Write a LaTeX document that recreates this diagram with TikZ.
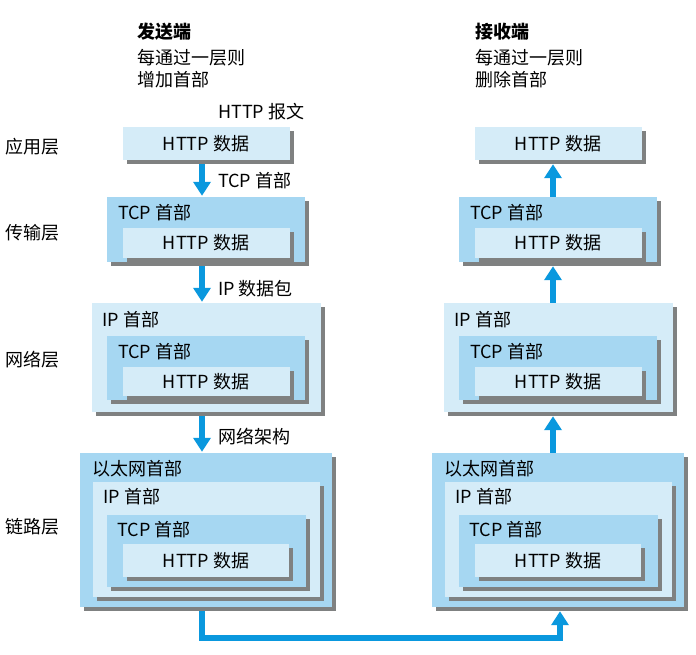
\documentclass[tikz,border=0pt]{standalone}
\usepackage{fontspec}
\setmainfont{Noto Sans CJK SC}
\usetikzlibrary{arrows.meta,positioning,shadows,calc}
\definecolor{pale}{HTML}{D5ECF8}
\definecolor{mid}{HTML}{A6D7F2}
\definecolor{flowblue}{HTML}{0A98DE}
\definecolor{shade}{HTML}{7F8181}
\tikzset{
  pkt/.style={inner sep=0pt,
              drop shadow={shadow xshift=4pt, shadow yshift=-4pt, fill=shade, opacity=1}},
  palebox/.style={pkt, fill=pale},
  midbox/.style={pkt, fill=mid},
  hdr/.style={anchor=west, inner sep=0pt},
  flow/.style={draw=flowblue, line width=5.5pt, -{Triangle[width=17pt,length=14pt]}},
}

\begin{document}
\begin{tikzpicture}[x=1pt, y=-1pt, font=\fontsize{18}{22}\selectfont]
  \useasboundingbox (0,0) rectangle (696,654);
  % column headings
  \node[hdr, font=\fontsize{18}{22}\selectfont\bfseries] (sendT) at (137,32) {发送端};
  \node[hdr] (sendA) at (137,58) {每通过一层则};
  \node[hdr] (sendB) at (137,80) {增加首部};
  \node[hdr, font=\fontsize{18}{22}\selectfont\bfseries] (recvT) at (475,32) {接收端};
  \node[hdr] (recvA) at (475,58) {每通过一层则};
  \node[hdr] (recvB) at (475,80) {删除首部};
  % layer names
  \node[hdr] (layApp) at (5,147) {应用层};
  \node[hdr] (layTrn) at (5,233) {传输层};
  \node[hdr] (layNet) at (5,360) {网络层};
  \node[hdr] (layLnk) at (5,527) {链路层};
  % packets, sender (L) and receiver (R)
  \foreach \c/\dx in {L/0,R/352}{
    % application layer
    \node[palebox, minimum width=167pt, minimum height=33pt] (app\c) at (206+\dx,143.5) {HTTP 数据};
    % transport layer
    \node[midbox, minimum width=198pt, minimum height=65pt] (trn\c) at (206+\dx,229.5) {};
    \node[hdr] (trnT\c) at ([shift={(11,16)}]trn\c.north west) {TCP 首部};
    \node[palebox, minimum width=167pt, minimum height=30pt] (trnd\c) at (206+\dx,243) {HTTP 数据};
    % network layer
    \node[palebox, minimum width=229pt, minimum height=109pt] (net\c) at (206+\dx,357.5) {};
    \node[hdr] (netI\c) at ([shift={(11,17)}]net\c.north west) {IP 首部};
    \node[midbox, minimum width=198pt, minimum height=64pt] (nett\c) at (206+\dx,368) {};
    \node[hdr] (netT\c) at ([shift={(11,16)}]nett\c.north west) {TCP 首部};
    \node[palebox, minimum width=167pt, minimum height=29pt] (netd\c) at (206+\dx,381.5) {HTTP 数据};
    % link layer
    \node[midbox, minimum width=252pt, minimum height=154pt] (lnk\c) at (206+\dx,530) {};
    \node[hdr] (lnkE\c) at ([shift={(12,16)}]lnk\c.north west) {以太网首部};
    \node[palebox, minimum width=227pt, minimum height=115pt] (lnki\c) at (206+\dx,539.5) {};
    \node[hdr] (lnkI\c) at ([shift={(11,15)}]lnki\c.north west) {IP 首部};
    \node[midbox, minimum width=199pt, minimum height=72pt] (lnkt\c) at (206+\dx,551) {};
    \node[hdr] (lnkT\c) at ([shift={(11,15)}]lnkt\c.north west) {TCP 首部};
    \node[palebox, minimum width=166pt, minimum height=33pt] (lnkd\c) at (206+\dx,560.5) {HTTP 数据};
  }
  % sender: headers added going down
  \node[hdr] (msg) at (218,112) {HTTP 报文};
  \draw[flow, shorten <=4pt, shorten >=1pt] ([xshift=-4pt]appL.south) -- ([xshift=-4pt]trnL.north);
  \node[hdr] (addTcp) at (218,181) {TCP 首部};
  \draw[flow, shorten <=4pt, shorten >=1pt] ([xshift=-4pt]trnL.south) -- ([xshift=-4pt]netL.north);
  \node[hdr] (addIp) at (218,289) {IP 数据包};
  \draw[flow, shorten <=4pt, shorten >=1pt] ([xshift=-4pt]netL.south) -- ([xshift=-4pt]lnkL.north);
  \node[hdr] (addEth) at (218,437) {网络架构};
  % wire between the two hosts
  \draw[flow, shorten <=4pt, shorten >=4pt] ([xshift=-4pt]lnkL.south) -- ++(0,31) -| ([xshift=2pt]lnkR.south);
  % receiver: headers removed going up
  \draw[flow, shorten >=4pt] ([xshift=-5pt]lnkR.north) -- ([xshift=-5pt]netR.south);
  \draw[flow, shorten >=4pt] ([xshift=-5pt]netR.north) -- ([xshift=-5pt]trnR.south);
  \draw[flow, shorten >=4pt] ([xshift=-5pt]trnR.north) -- ([xshift=-5pt]appR.south);
\end{tikzpicture}
\end{document}
